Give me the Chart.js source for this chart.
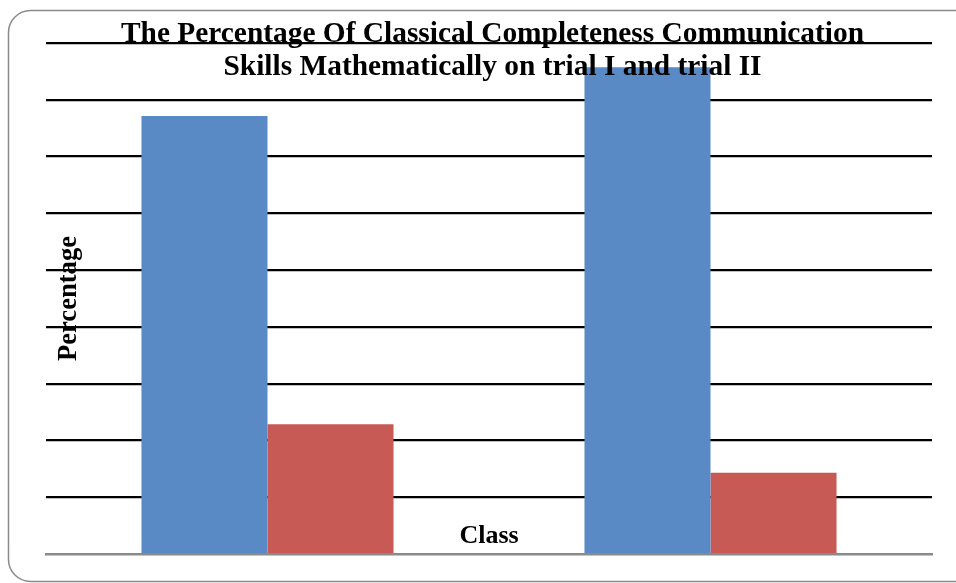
<!DOCTYPE html>
<html>
<head>
<meta charset="utf-8">
<script src="https://cdn.jsdelivr.net/npm/chart.js@4"></script>
<style>
  html, body { margin: 0; padding: 0; background: #ffffff; }
  #wrap { position: relative; width: 956px; height: 583px; }
  canvas { display: block; }
</style>
</head>
<body>
<div id="wrap"><canvas id="c" width="956" height="583"></canvas></div>
<script>
// ---- data ----
const categories = ["Trial I", "Trial II"];
const completeValues = [77.14, 85.71];
const notCompleteValues = [22.86, 14.29];
const seriesNames = ["Complete", "Not complete"];
const titleLines = ["The Percentage Of Classical Completeness Communication",
                    "Skills Mathematically on trial I and trial II"];
const yAxisTitle = "Percentage";
const xAxisTitle = "Class";
const yMin = 0, yMax = 90, yStep = 10;

const SERIF = '"Liberation Serif", "Times New Roman", serif';

const framePlugin = {
  id: 'frame',
  beforeDraw(chart) {
    const ctx = chart.ctx;
    ctx.save();
    ctx.fillStyle = '#ffffff';
    ctx.fillRect(0, 0, chart.width, chart.height);
    ctx.strokeStyle = '#8a8a8a';
    ctx.lineWidth = 1.5;
    ctx.beginPath();
    ctx.roundRect(8.5, 10.5, 975, 571, 22);
    ctx.stroke();
    ctx.restore();
  }
};

const textPlugin = {
  id: 'texts',
  afterDatasetsDraw(chart) {
    const ctx = chart.ctx;
    const a = chart.chartArea;
    const cx = (a.left + a.right) / 2 + 3.5;
    ctx.save();
    ctx.fillStyle = '#000000';
    ctx.textAlign = 'center';
    ctx.textBaseline = 'alphabetic';
    ctx.font = 'bold 29.4px ' + SERIF;
    ctx.fillText(titleLines[0], cx, 42);
    ctx.fillText(titleLines[1], cx, 75);
    ctx.font = 'bold 26px ' + SERIF;
    ctx.fillText(xAxisTitle, cx - 3.5, 543);
    ctx.font = 'bold 26.6px ' + SERIF;
    ctx.save();
    ctx.translate(76, (a.top + a.bottom) / 2);
    ctx.rotate(-Math.PI / 2);
    ctx.fillText(yAxisTitle, 0, 0);
    ctx.restore();
    ctx.restore();
  }
};

new Chart(document.getElementById('c'), {
  type: 'bar',
  data: {
    labels: categories,
    datasets: [
      { label: seriesNames[0], data: completeValues, backgroundColor: '#5a8ac6', borderWidth: 0 },
      { label: seriesNames[1], data: notCompleteValues, backgroundColor: '#c85a56', borderWidth: 0 }
    ]
  },
  options: {
    responsive: false,
    animation: false,
    devicePixelRatio: 1,
    layout: { padding: { left: 46, right: 24, top: 43, bottom: 29 } },
    plugins: { legend: { display: false }, title: { display: false }, tooltip: { enabled: false } },
    datasets: { bar: { barPercentage: 1, categoryPercentage: 0.569 } },
    scales: {
      x: {
        ticks: { display: false },
        grid: { display: false, drawTicks: false },
        border: { display: true, color: '#8a8a8a', width: 2.5 }
      },
      y: {
        min: yMin, max: yMax,
        ticks: { display: false, stepSize: yStep },
        grid: {
          drawTicks: false,
          color: (ctx) => ctx.tick && ctx.tick.value === 0 ? 'rgba(0,0,0,0)' : '#000000',
          lineWidth: 2.2
        },
        border: { display: false }
      }
    }
  },
  plugins: [framePlugin, textPlugin]
});
</script>
</body>
</html>
